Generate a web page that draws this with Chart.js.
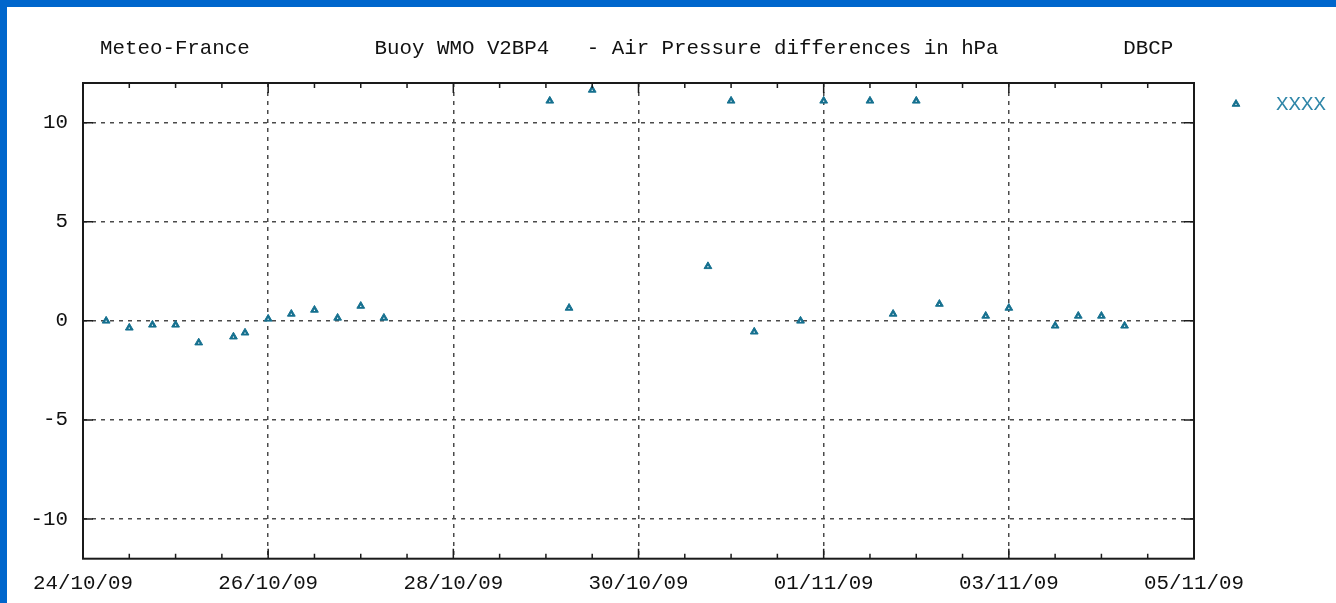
<!DOCTYPE html>
<html>
<head>
<meta charset="utf-8">
<script src="https://cdn.jsdelivr.net/npm/chart.js@4/dist/chart.umd.min.js"></script>
<style>
  html, body { margin: 0; padding: 0; background: #0066cc; overflow: hidden; }
  #wrap { position: absolute; left: 7px; top: 7px; width: 1329px; height: 596px; background: #fff; }
  canvas { display: block; }
</style>
</head>
<body>
<div id="wrap"><canvas id="c" width="1329" height="596"></canvas></div>
<script>
// Buoy V2BP4 air pressure differences (hPa), Meteo-France / DBCP
const startDate = '2009-10-24T00:00Z';

const obsTimes = [
  '2009-10-24 06:00', '2009-10-24 12:00', '2009-10-24 18:00',
  '2009-10-25 00:00', '2009-10-25 06:00', '2009-10-25 15:00', '2009-10-25 18:00',
  '2009-10-26 00:00', '2009-10-26 06:00', '2009-10-26 12:00', '2009-10-26 18:00',
  '2009-10-27 00:00', '2009-10-27 06:00',
  '2009-10-29 01:00', '2009-10-29 06:00', '2009-10-29 12:00',
  '2009-10-30 18:00',
  '2009-10-31 00:00', '2009-10-31 06:00', '2009-10-31 18:00',
  '2009-11-01 00:00', '2009-11-01 12:00', '2009-11-01 18:00',
  '2009-11-02 00:00', '2009-11-02 06:00', '2009-11-02 18:00',
  '2009-11-03 00:00', '2009-11-03 12:00', '2009-11-03 18:00',
  '2009-11-04 00:00', '2009-11-04 06:00'
];
const pressureDiff = [
  0.0, -0.35, -0.2,
  -0.2, -1.1, -0.8, -0.6,
  0.1, 0.35, 0.55, 0.15,
  0.75, 0.15,
  11.1, 0.65, 11.65,
  2.75,
  11.1, -0.55, 0.0,
  11.1, 11.1, 0.35,
  11.1, 0.85, 0.25,
  0.65, -0.25, 0.25,
  0.25, -0.25
];

const seriesLabel = 'XXXX';
const titleText = 'Meteo-France          Buoy WMO V2BP4   - Air Pressure differences in hPa          DBCP';

// x axis in days since 24/10/09
const xTickDays = [0, 2, 4, 6, 8, 10, 12];
const xTickLabels = ['24/10/09', '26/10/09', '28/10/09', '30/10/09', '01/11/09', '03/11/09', '05/11/09'];
const xMinorStep = 0.5;
const yTicks = [-10, -5, 0, 5, 10];

const FONT = '"Liberation Mono", "DejaVu Sans Mono", monospace';
const FONT_SIZE = 20.8;
const MARK = '#15708f';
const LEGEND_TEXT = '#2f86a8';

function toDays(t){
  return (Date.parse(t.replace(' ', 'T') + 'Z') - Date.parse(startDate)) / 864e5;
}
const points = obsTimes.map((t, i) => ({ x: toDays(t), y: pressureDiff[i] }));

const decor = {
  id: 'decor',
  afterDatasetsDraw(chart){
    // small white dot inside each marker, like the gnuplot symbol
    const ctx = chart.ctx;
    ctx.save();
    ctx.fillStyle = '#ffffff';
    chart.getDatasetMeta(0).data.forEach(p => {
      ctx.fillRect(p.x - 0.6, p.y - 0.2, 1.2, 1.2);
    });
    ctx.restore();
  },
  afterDraw(chart){
    const ctx = chart.ctx;
    const a = chart.chartArea;
    const xs = chart.scales.x, ys = chart.scales.y;
    ctx.save();
    ctx.strokeStyle = '#1a1a1a';
    ctx.lineWidth = 2;
    ctx.setLineDash([]);
    ctx.strokeRect(a.left, a.top, a.right - a.left, a.bottom - a.top);

    ctx.lineWidth = 1.5;
    ctx.beginPath();
    // x ticks, major and minor, inward on bottom and top
    for (let d = xs.min; d <= xs.max + 1e-9; d += xMinorStep){
      const px = xs.getPixelForValue(d);
      const len = xTickDays.includes(d) ? 10 : 5;
      ctx.moveTo(px, a.bottom); ctx.lineTo(px, a.bottom - len);
      ctx.moveTo(px, a.top); ctx.lineTo(px, a.top + len);
    }
    // y ticks on left and right
    yTicks.forEach(v => {
      const py = ys.getPixelForValue(v);
      ctx.moveTo(a.left, py); ctx.lineTo(a.left + 10, py);
      ctx.moveTo(a.right, py); ctx.lineTo(a.right - 10, py);
    });
    ctx.stroke();

    // header line
    ctx.font = FONT_SIZE + 'px ' + FONT;
    ctx.fillStyle = '#111';
    ctx.textAlign = 'left';
    ctx.textBaseline = 'middle';
    ctx.fillText(titleText, 93, 41);

    // key on the right
    const ds = chart.data.datasets[0];
    ctx.fillStyle = ds.backgroundColor;
    ctx.strokeStyle = ds.borderColor;
    ctx.lineWidth = 1;
    Chart.helpers.drawPoint(ctx, { pointStyle: 'triangle', radius: 4.5, rotation: 0, borderWidth: 1 }, a.right + 42, a.top + 21);
    ctx.fillStyle = '#fff';
    ctx.fillRect(a.right + 41.4, a.top + 20.8, 1.2, 1.2);
    ctx.fillStyle = LEGEND_TEXT;
    ctx.fillText(ds.label, a.right + 82, a.top + 21);
    ctx.restore();
  }
};

new Chart(document.getElementById('c'), {
  type: 'scatter',
  data: {
    datasets: [{
      label: seriesLabel,
      data: points,
      pointStyle: 'triangle',
      pointRadius: 4.5,
      pointHoverRadius: 4.5,
      backgroundColor: MARK,
      borderColor: MARK,
      borderWidth: 1
    }]
  },
  options: {
    responsive: false,
    animation: false,
    layout: { padding: { top: 76, right: 142, left: 0, bottom: 0 } },
    plugins: { legend: { display: false }, title: { display: false }, tooltip: { enabled: false } },
    scales: {
      x: {
        type: 'linear',
        min: 0,
        max: 12,
        afterBuildTicks(s){ s.ticks = xTickDays.map(v => ({ value: v })); },
        afterFit(s){ s.height = 44.3; },
        grid: { color: '#4a4a4a', lineWidth: 1.5, drawTicks: false },
        border: { display: false, dash: [4, 5] },
        ticks: {
          autoSkip: false,
          maxRotation: 0,
          padding: 12,
          color: '#111',
          font: { family: FONT, size: FONT_SIZE },
          callback: (v) => xTickLabels[xTickDays.indexOf(v)] ?? ''
        }
      },
      y: {
        min: -12,
        max: 12,
        afterBuildTicks(s){ s.ticks = yTicks.map(v => ({ value: v })); },
        afterFit(s){ s.width = 76; },
        grid: { color: '#4a4a4a', lineWidth: 1.5, drawTicks: false },
        border: { display: false, dash: [4, 5] },
        ticks: {
          padding: 15,
          color: '#111',
          font: { family: FONT, size: FONT_SIZE }
        }
      }
    }
  },
  plugins: [decor]
});
</script>
</body>
</html>
